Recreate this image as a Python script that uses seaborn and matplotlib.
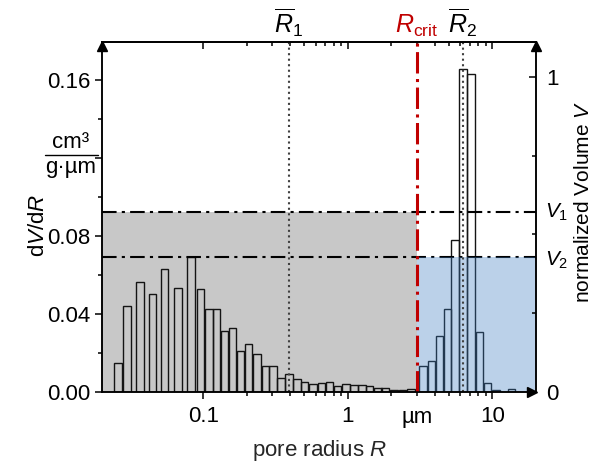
import numpy as np
import matplotlib
matplotlib.use('Agg')
from matplotlib import pyplot as plt
from matplotlib import transforms
from matplotlib.ticker import FixedLocator, FixedFormatter, NullFormatter
import seaborn as sns

# pore size distribution
radius = [0.0257, 0.0297, 0.0365, 0.0445, 0.0542, 0.0672, 0.0826, 0.0962, 0.110, 0.124,
          0.141, 0.160, 0.181, 0.206, 0.236, 0.270, 0.304, 0.345, 0.392, 0.445,
          0.501, 0.574, 0.656, 0.745, 0.847, 0.969, 1.10, 1.25, 1.41, 1.61,
          1.81, 2.09, 2.38, 2.74,
          3.32, 3.79, 4.31, 4.89, 5.51, 6.26, 7.11, 8.13, 9.24, 10.6, 13.5]
dvdr = [0.0147, 0.0443, 0.0564, 0.0503, 0.0631, 0.0535, 0.0694, 0.0527, 0.0426, 0.0428,
        0.0311, 0.0330, 0.0210, 0.0245, 0.0193, 0.0133, 0.0133, 0.0070, 0.0092, 0.0065,
        0.0053, 0.0043, 0.0048, 0.0051, 0.0032, 0.0039, 0.0036, 0.0037, 0.0031, 0.0019,
        0.0019, 0.0010, 0.0010, 0.0015,
        0.0133, 0.0157, 0.0286, 0.0426, 0.0778, 0.1655, 0.1633, 0.0306, 0.0047, 0.0009, 0.0014]

r_mean1 = 0.39
r_mean2 = 6.25
r_crit = 3.0
v1 = 0.57   # normalized volume
v2 = 0.43

x_ticks = [0.1, 1, 10]
x_ticklabels = ['0.1', '1', '10']
x_minor = [0.2, 0.3, 0.4, 0.5, 0.6, 0.7, 0.8, 0.9, 2, 3, 4, 5, 6, 7, 8, 9]
y_ticks = [0, 0.04, 0.08, 0.12, 0.16]
y_ticklabels = ['0.00', '0.04', '0.08', '', '0.16']
y_minor = [0.02, 0.06, 0.10, 0.14]
v_ticks = [0, 1]
v_minor = [0.25, 0.5, 0.75]

sns.set_style('ticks')
plt.rcParams['font.family'] = ['Liberation Sans', 'DejaVu Sans']
plt.rcParams['mathtext.fontset'] = 'custom'
plt.rcParams['mathtext.rm'] = 'Liberation Sans'
plt.rcParams['mathtext.it'] = 'Liberation Sans:italic'
plt.rcParams['mathtext.bf'] = 'Liberation Sans:bold'
plt.rcParams['axes.edgecolor'] = 'black'
plt.rcParams['xtick.color'] = 'black'
plt.rcParams['ytick.color'] = 'black'
plt.rcParams['text.color'] = 'black'
plt.rcParams['axes.linewidth'] = 1.1

fs = 16
fig = plt.figure(figsize=(5.97, 4.63), dpi=100)
ax = fig.add_axes([0.1709, 0.1533, 0.727, 0.756])
ax2 = ax.twinx()

x_lo, x_hi = 0.02, 20
y_top = 0.1795
v_top = 1.111
k = y_top / v_top

ax.set_xscale('log')
ax.set_xlim(x_lo, x_hi)
ax.set_ylim(0, y_top)
ax2.set_ylim(0, v_top)

# shaded volume areas
ax.fill_between([x_lo, r_crit], 0, v1 * k, color='#c8c8c8', lw=0, zorder=0.5)
ax.fill_between([r_crit, x_hi], 0, v2 * k, color='#3d7cc0', alpha=0.35, lw=0, zorder=2)

# bars, constant width in log space
hw = 0.026
c = np.array(radius)
left = c * 10 ** -hw
width = c * 10 ** hw - left
ax.bar(left, dvdr, width=width, align='edge', facecolor='none',
       edgecolor='#141414', lw=1.0, zorder=1)

dashdot = (0, (7, 2.5, 1.5, 2.5))
ax.axhline(v1 * k, color='black', lw=1.5, ls=dashdot, zorder=1.5)
ax.axhline(v2 * k, color='black', lw=1.5, ls=dashdot, zorder=1.5)
ax.axvline(r_mean1, color='#404040', lw=1.5, ls=':', zorder=2.5)
ax.axvline(r_mean2, color='#404040', lw=1.5, ls=':', zorder=2.5)
ax.axvline(r_crit, color='#c00000', lw=2.2, ls=(0, (7, 1.8, 1, 1.8)), zorder=3)

# x axis
ax.xaxis.set_major_locator(FixedLocator(x_ticks))
ax.xaxis.set_major_formatter(FixedFormatter(x_ticklabels))
ax.xaxis.set_minor_locator(FixedLocator(x_minor))
ax.xaxis.set_minor_formatter(NullFormatter())
ax.tick_params(axis='x', which='both', direction='out', top=False, labelsize=fs, pad=5)
ax.tick_params(axis='x', which='major', length=5, width=1.1)
ax.tick_params(axis='x', which='minor', length=3, width=1.1)
top = ax.secondary_xaxis('top')
top.xaxis.set_major_locator(FixedLocator(x_ticks))
top.xaxis.set_minor_locator(FixedLocator(x_minor))
top.xaxis.set_major_formatter(NullFormatter())
top.xaxis.set_minor_formatter(NullFormatter())
top.tick_params(axis='x', which='both', direction='in', width=1.1)
top.tick_params(axis='x', which='major', length=5)
top.tick_params(axis='x', which='minor', length=3)

# left y axis
ax.yaxis.set_major_locator(FixedLocator(y_ticks))
ax.yaxis.set_major_formatter(FixedFormatter(y_ticklabels))
ax.yaxis.set_minor_locator(FixedLocator(y_minor))
ax.tick_params(axis='y', which='both', direction='out', right=False, labelsize=fs, pad=3.5, width=1.1)
ax.tick_params(axis='y', which='major', length=5)
ax.tick_params(axis='y', which='minor', length=3)

# right y axis
ax2.yaxis.set_major_locator(FixedLocator(v_ticks))
ax2.yaxis.set_major_formatter(FixedFormatter(['0', '1']))
ax2.yaxis.set_minor_locator(FixedLocator(v_minor))
ax2.tick_params(axis='y', which='both', direction='in', labelsize=fs, pad=7, width=1.1)
ax2.tick_params(axis='y', which='major', length=5)
ax2.tick_params(axis='y', which='minor', length=3)

# arrow heads at the axis ends
for (px, py, m, dx, dy) in [(0, 1, '^', 0, -4.5), (1, 1, '^', 0, -4.5), (1, 0, '>', -4.5, 0)]:
    tr = transforms.offset_copy(ax.transAxes, fig=fig, x=dx, y=dy, units='dots')
    ax.plot([px], [py], marker=m, ms=6.5, color='black', transform=tr, clip_on=False, zorder=6)

# labels
xt = ax.get_xaxis_transform()
ax.text(r_mean1, 1.026, r'$\overline{R}_{\mathit{1}}$', transform=xt, ha='center', va='baseline', fontsize=18)
ax.text(r_crit, 1.026, r'$R_{\mathrm{crit}}$', transform=xt, ha='center', va='baseline', fontsize=18, color='#c00000')
ax.text(r_mean2, 1.026, r'$\overline{R}_{2}$', transform=xt, ha='center', va='baseline', fontsize=18)
ax.text(r_crit, -0.0286 - 5 / 350, 'µm', transform=xt, ha='center', va='top', fontsize=fs)

ax.set_xlabel(r'pore radius $R$', fontsize=fs, va='top')
ax.xaxis.set_label_coords(0.5, -0.13)
ax.text(-0.147, 0.477, r'd$V$/d$R$', transform=ax.transAxes, rotation=90, ha='center', va='center', fontsize=fs)
ax.text(-0.0714, 0.682, 'cm³', transform=ax.transAxes, ha='center', va='bottom', fontsize=fs)
ax.text(-0.0714, 0.672, 'g·µm', transform=ax.transAxes, ha='center', va='top', fontsize=fs)
ax.plot([-0.131, -0.009], [0.677, 0.677], transform=ax.transAxes, color='black', lw=1.0, clip_on=False)

ax.text(1.021, v1 / v_top, r'$V_{1}$', transform=ax.transAxes, ha='left', va='center', fontsize=15)
ax.text(1.021, v2 / v_top - 0.01, r'$V_{2}$', transform=ax.transAxes, ha='left', va='center', fontsize=15)
ax.text(1.087, 0.543, r'normalized Volume $V$', transform=ax.transAxes, rotation=90,
        ha='left', va='center', fontsize=15)

plt.savefig('out.png', dpi=100)
